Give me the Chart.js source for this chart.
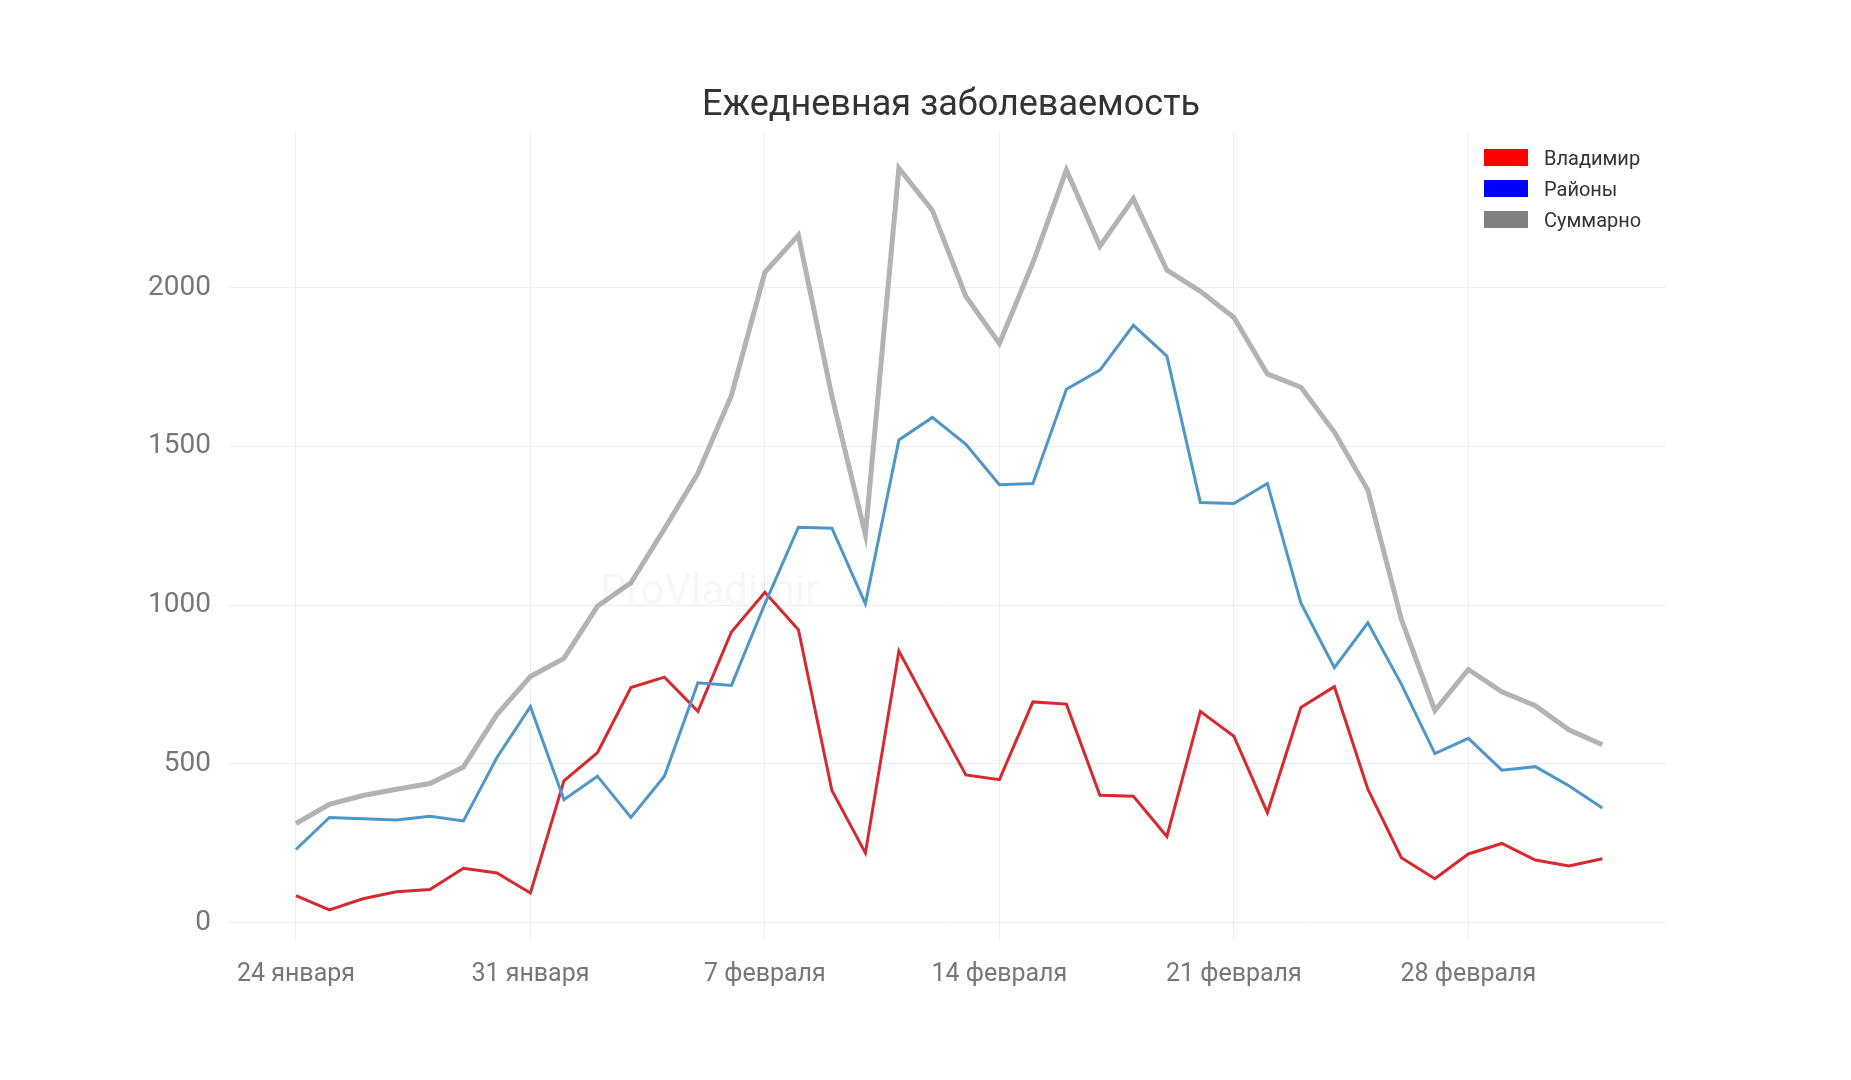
<!DOCTYPE html>
<html>
<head>
<meta charset="utf-8">
<script src="https://cdn.jsdelivr.net/npm/chart.js@4"></script>
<style>
  body { margin: 0; background: #fff; font-family: Roboto, "Open Sans", sans-serif; }
  #wrap { position: relative; width: 1851px; height: 1080px; }
  #title { position: absolute; left: 0; width: 1902px; top: 82px; text-align: center; font-size: 36px; color: #333; }
  #legend { position: absolute; left: 1484px; top: 142px; font-size: 20px; color: #333; }
  #legend div { height: 31px; display: flex; align-items: center; }
  #legend span.box { display: inline-block; width: 44px; height: 17px; margin-right: 16px; }
  #mark { position: absolute; left: 600px; top: 565px; font-size: 42px; color: rgba(0,0,0,0.03); }
</style>
</head>
<body>
<div id="wrap">
  <canvas id="chart" width="1851" height="1080"></canvas>
  <div id="title">Ежедневная заболеваемость</div>
  <div id="mark">ProVladimir</div>
  <div id="legend">
    <div><span class="box" style="background:#ff0000"></span>Владимир</div>
    <div><span class="box" style="background:#0000ff"></span>Районы</div>
    <div><span class="box" style="background:#808080"></span>Суммарно</div>
  </div>
</div>
<script>
// Days from 24 January
const tickDays = [0, 7, 14, 21, 28, 35];
const tickLabels = ['24 января', '31 января', '7 февраля', '14 февраля', '21 февраля', '28 февраля'];

const vladimir = [85, 40, 75, 97, 104, 171, 156, 93, 446, 535, 740, 773, 665, 915, 1040, 922, 416, 219, 855, 658,
    465, 450, 695, 688, 401, 398, 271, 665, 587, 346, 677, 743, 420, 204, 138, 216, 249, 197, 178, 201];
const rayony = [230, 331, 327, 323, 335, 320, 520, 680, 387, 461, 331, 461, 755, 747, 1004, 1245, 1242, 1004, 1520, 1591,
    1506, 1379, 1383, 1680, 1740, 1881, 1784, 1323, 1320, 1383, 1007, 803, 944, 751, 532, 580, 480, 491, 431, 361];
const summarno = [312, 372, 400, 420, 438, 490, 655, 775, 832, 996, 1070, 1240, 1415, 1660, 2048, 2165, 1658, 1222, 2376, 2243,
    1972, 1824, 2078, 2370, 2130, 2280, 2055, 1988, 1906, 1728, 1686, 1545, 1362, 955, 668, 797, 727, 683, 607, 560];

function pts(arr) {
    return arr.map((v, i) => ({ x: i, y: v }));
}

const ctx = document.getElementById('chart').getContext('2d');
new Chart(ctx, {
    type: 'line',
    data: {
        datasets: [{
            label: 'Суммарно',
            data: pts(summarno),
            borderColor: '#b3b3b3',
            borderWidth: 5,
            pointRadius: 0,
            tension: 0
        }, {
            label: 'Районы',
            data: pts(rayony),
            borderColor: '#4f96c9',
            borderWidth: 3,
            pointRadius: 0,
            tension: 0
        }, {
            label: 'Владимир',
            data: pts(vladimir),
            borderColor: '#d62a2f',
            borderWidth: 3,
            pointRadius: 0,
            tension: 0
        }]
    },
    options: {
        responsive: false,
        animation: false,
        layout: { padding: { left: 130, right: 185, top: 132, bottom: 70 } },
        plugins: {
            legend: { display: false },
            tooltip: { enabled: false },
            title: { display: false }
        },
        scales: {
            x: {
                type: 'linear',
                min: -2,
                max: 40.9,
                afterBuildTicks: s => { s.ticks = tickDays.map(v => ({ value: v })); },
                ticks: {
                    callback: v => tickLabels[tickDays.indexOf(v)],
                    color: '#777',
                    font: { size: 25, family: 'Roboto' },
                    maxRotation: 0,
                    padding: 20
                },
                grid: { color: '#eeeeee', drawTicks: false },
                border: { display: false }
            },
            y: {
                min: -55,
                max: 2490,
                afterBuildTicks: s => { s.ticks = [0, 500, 1000, 1500, 2000].map(v => ({ value: v })); },
                ticks: {
                    callback: v => String(v),
                    color: '#777',
                    font: { size: 28, family: 'Roboto' },
                    padding: 18
                },
                grid: { color: '#eeeeee', drawTicks: false },
                border: { display: false }
            }
        }
    }
});
</script>
</body>
</html>
